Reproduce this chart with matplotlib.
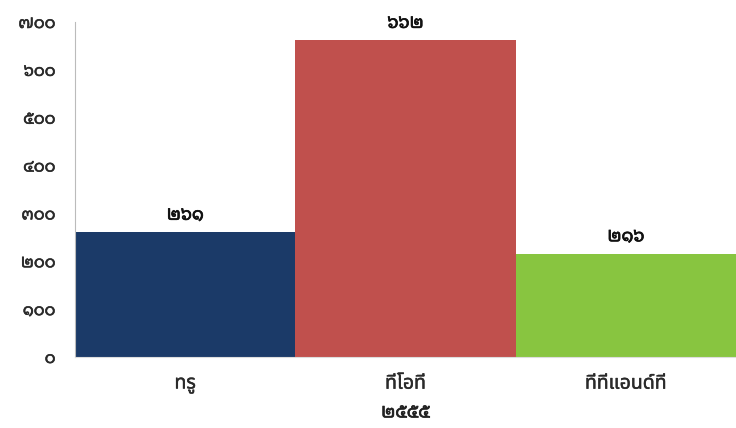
import matplotlib
matplotlib.use("Agg")
import matplotlib.pyplot as plt
import matplotlib.patheffects as pe
from matplotlib.ticker import FixedLocator, FuncFormatter

categories = ["ทรู", "ทีโอที", "ทีทีแอนด์ที"]
values = [261, 662, 216]
colors = ["#1B3A68", "#C0504D", "#88C540"]
yticks = [0, 100, 200, 300, 400, 500, 600, 700]
xlabel = "๒๕๕๕"

thai_digits = str.maketrans("0123456789", "๐๑๒๓๔๕๖๗๘๙")
def th(n):
    return str(int(n)).translate(thai_digits)

DIGITS = ["Noto Sans Thai Looped", "DejaVu Sans"]
LABELS = ["Noto Sans Thai", "DejaVu Sans"]
plt.rcParams['font.family'] = DIGITS

def bold(c, w=0.5):
    return [pe.withStroke(linewidth=w, foreground=c)]

fig = plt.figure(figsize=(7.36, 4.28), dpi=100)
ax = fig.add_axes([75/736, 1-357/428, (736-75)/736, (357-22)/428])
x = list(range(len(categories)))
ax.bar(x, values, width=1.0, color=colors, edgecolor='none')
ax.set_xlim(-0.5, len(categories)-0.5)
ax.set_ylim(0, 700)
ax.yaxis.set_major_locator(FixedLocator(yticks))
ax.yaxis.set_major_formatter(FuncFormatter(lambda v, p: th(v)))
ax.tick_params(axis='y', length=0, pad=14, labelsize=12, labelcolor='#2a2a2a')
for lab in ax.get_yticklabels():
    lab.set_path_effects(bold('#2a2a2a', 0.4))
ax.set_xticks(x)
ax.set_xticklabels(categories, family=LABELS)
ax.tick_params(axis='x', length=0, pad=12, labelsize=14, labelcolor='#2a2a2a')
for lab in ax.get_xticklabels():
    lab.set_path_effects(bold('#2a2a2a', 0.3))
for s in ['top', 'right']:
    ax.spines[s].set_visible(False)
ax.spines['left'].set_color('#BBBBBB')
ax.spines['left'].set_linewidth(0.8)
ax.spines['bottom'].set_color('#DDDDDD')
ax.spines['bottom'].set_linewidth(0.8)
for xi, v in zip(x, values):
    ax.annotate(th(v), (xi, v), xytext=(0, 6), textcoords='offset points',
                ha='center', va='bottom', fontsize=13, color='#111111',
                path_effects=bold('#111111', 0.5))
ax.set_xlabel(xlabel, fontsize=13, labelpad=7, color='#222222',
              path_effects=bold('#222222', 0.5))
fig.savefig("out.png", dpi=100)
